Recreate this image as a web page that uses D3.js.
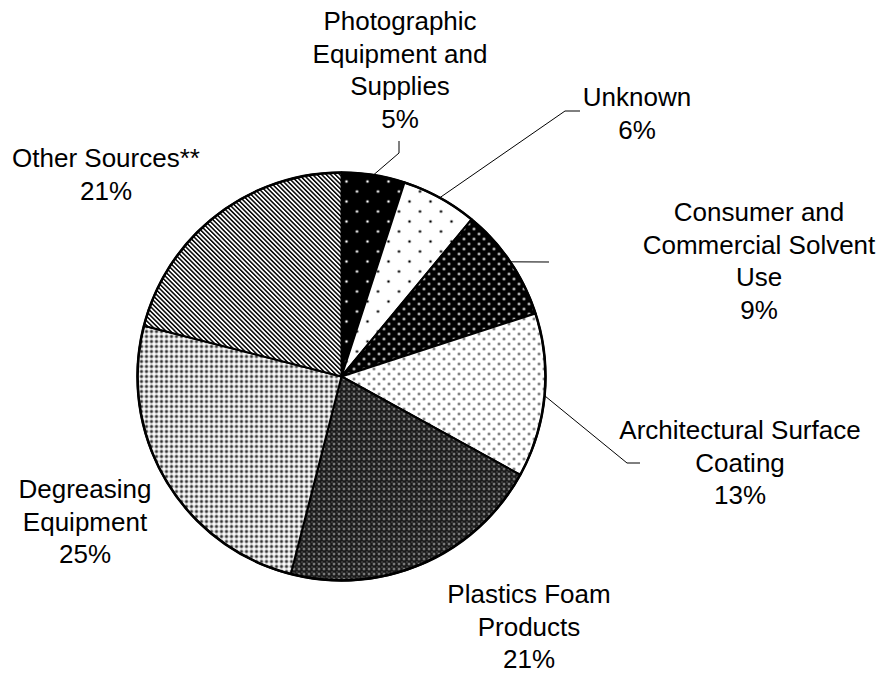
<!DOCTYPE html>
<html>
<head>
<meta charset="utf-8">
<script src="https://cdn.jsdelivr.net/npm/d3@7"></script>
<style>
body { margin: 0; background: #fff; }
text { font-family: "Liberation Sans", Arial, sans-serif; }
</style>
</head>
<body>
<script>
let width = 895
let height = 673

// data
let categories = ["Photographic Equipment and Supplies", "Unknown", "Consumer and Commercial Solvent Use",
  "Architectural Surface Coating", "Plastics Foam Products", "Degreasing Equipment", "Other Sources**"]
let values = [5, 6, 9, 13, 21, 25, 21]
let labelLines = [
  ["Photographic", "Equipment and", "Supplies"],
  ["Unknown"],
  ["Consumer and", "Commercial Solvent", "Use"],
  ["Architectural Surface", "Coating"],
  ["Plastics Foam", "Products"],
  ["Degreasing", "Equipment"],
  ["Other Sources**"]
]

// layout (label centre x, first baseline y, leader elbow points)
let labelPos = [
  {x: 400, y: 30, leader: [[399, 153], [399, 141]]},
  {x: 637, y: 106, leader: [[565, 111], [580, 111]]},
  {x: 759, y: 221, leader: [[549, 262]]},
  {x: 740, y: 439, leader: [[627, 463], [640, 463]]},
  {x: 529, y: 603, leader: null},
  {x: 85, y: 498, leader: null},
  {x: 106, y: 167, leader: null}
]

let cx = 341.5
let cy = 376.5
let r = 204
let fontSize = 26
let lineH = 32.5

let svg = d3.select("body")
  .append("svg")
  .attr("width", width)
  .attr("height", height)

let defs = svg.append("defs")

// sparse dots (photo: white on black, unknown: black on white)
function sparseDots(id, bg, fg) {
  let p = defs.append("pattern").attr("id", id)
    .attr("patternUnits", "userSpaceOnUse").attr("width", 21).attr("height", 20)
  p.append("rect").attr("width", 21).attr("height", 20).attr("fill", bg)
  p.append("circle").attr("cx", 5).attr("cy", 5).attr("r", 1.3).attr("fill", fg)
  p.append("circle").attr("cx", 15.5).attr("cy", 15).attr("r", 1.3).attr("fill", fg)
}
sparseDots("pPhoto", "#000", "#fff")
sparseDots("pUnknown", "#fff", "#000")

// dense dots
function denseDots(id, bg, fg, rr) {
  let p = defs.append("pattern").attr("id", id)
    .attr("patternUnits", "userSpaceOnUse").attr("width", 10).attr("height", 10)
  p.append("rect").attr("width", 10).attr("height", 10).attr("fill", bg)
  p.append("circle").attr("cx", 2.5).attr("cy", 2.5).attr("r", rr).attr("fill", fg)
  p.append("circle").attr("cx", 7.5).attr("cy", 7.5).attr("r", rr).attr("fill", fg)
}
denseDots("pConsumer", "#000", "#fff", 1.2)
denseDots("pArch", "#fff", "#444", 1.2)

// plastics: dark lattice with light specks
let pp = defs.append("pattern").attr("id", "pPlastics")
  .attr("patternUnits", "userSpaceOnUse").attr("width", 5).attr("height", 5)
pp.append("rect").attr("width", 5).attr("height", 5).attr("fill", "#1a1a1a")
pp.append("circle").attr("cx", 2.5).attr("cy", 2.5).attr("r", 1).attr("fill", "#ddd")
pp.append("rect").attr("x", 0).attr("y", 0).attr("width", 1).attr("height", 1).attr("fill", "#888")

// degreasing: lighter lattice
let pd = defs.append("pattern").attr("id", "pDegrease")
  .attr("patternUnits", "userSpaceOnUse").attr("width", 5).attr("height", 5)
pd.append("rect").attr("width", 5).attr("height", 5).attr("fill", "#fff")
pd.append("circle").attr("cx", 0).attr("cy", 0).attr("r", 1.7).attr("fill", "#333")
pd.append("circle").attr("cx", 5).attr("cy", 0).attr("r", 1.7).attr("fill", "#333")
pd.append("circle").attr("cx", 0).attr("cy", 5).attr("r", 1.7).attr("fill", "#333")
pd.append("circle").attr("cx", 5).attr("cy", 5).attr("r", 1.7).attr("fill", "#333")

// other: diagonal stripes
let ps = defs.append("pattern").attr("id", "pOther")
  .attr("patternUnits", "userSpaceOnUse").attr("width", 3.2).attr("height", 10)
  .attr("patternTransform", "rotate(-45)")
ps.append("rect").attr("width", 3.2).attr("height", 10).attr("fill", "#fff")
ps.append("rect").attr("width", 1.5).attr("height", 10).attr("fill", "#000")

let fills = ["url(#pPhoto)", "url(#pUnknown)", "url(#pConsumer)", "url(#pArch)",
  "url(#pPlastics)", "url(#pDegrease)", "url(#pOther)"]

let pie = d3.pie().sort(null).value(d => d)
let arcs = pie(values)
let arc = d3.arc().innerRadius(0).outerRadius(r)

let g = svg.append("g").attr("transform", `translate(${cx},${cy})`)

g.selectAll("path.slice")
  .data(arcs)
  .join("path")
  .attr("class", "slice")
  .attr("d", arc)
  .attr("fill", (d, i) => fills[i])
  .attr("stroke", "#000")
  .attr("stroke-width", 2)
  .attr("stroke-linejoin", "round")

g.append("circle")
  .attr("r", r)
  .attr("fill", "none")
  .attr("stroke", "#000")
  .attr("stroke-width", 2.5)

// leader lines
arcs.forEach((d, i) => {
  let lp = labelPos[i]
  if (!lp.leader) return
  let a = (d.startAngle + d.endAngle) / 2
  let pts = [[cx + r * Math.sin(a), cy - r * Math.cos(a)]].concat(lp.leader)
  svg.append("path")
    .attr("d", d3.line()(pts))
    .attr("fill", "none")
    .attr("stroke", "#000")
    .attr("stroke-width", 1)
})

// labels
arcs.forEach((d, i) => {
  let lp = labelPos[i]
  let lines = labelLines[i].concat([values[i] + "%"])
  let t = svg.append("text")
    .attr("text-anchor", "middle")
    .attr("font-size", fontSize)
    .attr("fill", "#000")
  lines.forEach((s, k) => {
    t.append("tspan").attr("x", lp.x).attr("y", lp.y + k * lineH).text(s)
  })
})
</script>
</body>
</html>
